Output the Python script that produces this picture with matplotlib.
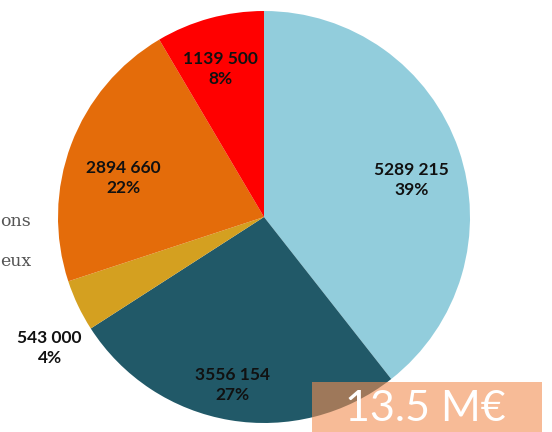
import numpy as np
import matplotlib
matplotlib.use('Agg')
import matplotlib.pyplot as plt
from matplotlib.patches import Rectangle

# data
values = [5289215, 3556154, 543000, 2894660, 1139500]
value_labels = ['5289 215', '3556 154', '543 000', '2894 660', '1139 500']
percents = [39, 27, 4, 22, 8]
colors = ['#92cddc', '#215968', '#d4a020', '#e46c0a', '#ff0000']
legend_names = ['ons', 'eux']  # only the ends of the legend words are visible
total_label = '13.5 M€'

# label placement (radius, angle tweak in degrees) per slice
label_r = [0.74, 0.83, 1.22, 0.71, 0.75]
label_dtheta = [-5, -1, 6, 5, 1]

fig = plt.figure(figsize=(5.52, 4.32), dpi=100)
ax = fig.add_axes([58 / 552, 9 / 432, 412 / 552, 412 / 432])

wedges, _ = ax.pie(values, colors=colors, startangle=90, counterclock=False,
                   radius=1, wedgeprops={'linewidth': 0})
ax.set_xlim(-1, 1)
ax.set_ylim(-1, 1)
ax.set_aspect('equal')
ax.axis('off')

for w, lab, pct, r, dt in zip(wedges, value_labels, percents, label_r, label_dtheta):
    mid = np.deg2rad((w.theta1 + w.theta2) / 2 + dt)
    ax.text(r * np.cos(mid), r * np.sin(mid), f'{lab}\n{pct}%',
            ha='center', va='center', fontsize=12.5, fontweight='bold',
            family='Lato', color='#111111', linespacing=1.3, clip_on=False)

# legend fragments on the left
fig.text(0, 1 - 222 / 432, legend_names[0], ha='left', va='center',
         family='DejaVu Serif', fontsize=12.5, color='#555555')
fig.text(0, 1 - 262 / 432, legend_names[1], ha='left', va='center',
         family='DejaVu Serif', fontsize=12.5, color='#555555')

# total box
fig.patches.append(Rectangle((312 / 552, 0), 230 / 552, 50 / 432,
                             transform=fig.transFigure, facecolor='#f38e52',
                             alpha=0.6, edgecolor='none', zorder=5))
fig.text(425 / 552, 1 - 409 / 432, total_label, ha='center', va='center',
         family='Lato', fontsize=31, color='white', zorder=6)

fig.savefig('out.png', dpi=100)
